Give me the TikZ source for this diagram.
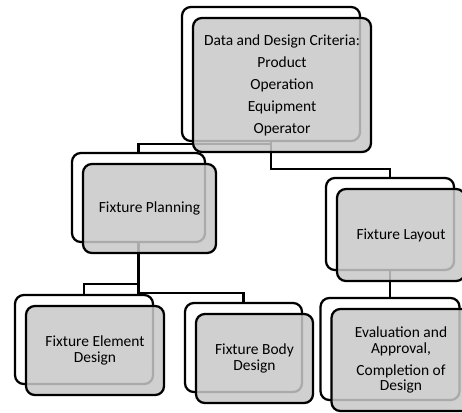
\documentclass[tikz,border=0pt]{standalone}
\usepackage{fontspec}
\setmainfont{Carlito}
\usetikzlibrary{backgrounds}
\definecolor{boxgray}{RGB}{200,200,200}
\tikzset{
  backbox/.style={draw=black,fill=white,rounded corners=5pt,inner sep=0pt},
  frontbox/.style={draw=black,fill=boxgray,fill opacity=0.85,text opacity=1,
    rounded corners=5pt,inner sep=0pt,align=center,
    font=\fontsize{8.8}{9}\selectfont},
  link/.style={draw=black,line width=1.3pt}
}

\begin{document}
\begin{tikzpicture}[x=0.02cm,y=-0.02cm,line width=1.3pt]
\useasboundingbox (0,0) rectangle (462,412);
\clip (0,0) rectangle (462,412);

% top level
\node[backbox,minimum width=3.56cm,minimum height=2.68cm] (topb) at (271,74) {};
\node[frontbox,minimum width=3.56cm,minimum height=2.68cm] (top) at (282,85)
  {Data and Design Criteria:\\[3.5pt]Product\\[3.5pt]Operation\\[3.5pt]Equipment\\[3.5pt]Operator};

% second level
\node[backbox,minimum width=2.66cm,minimum height=1.78cm] (planb) at (138.5,197.5) {};
\node[frontbox,minimum width=2.66cm,minimum height=1.78cm] (plan) at (149.5,208.5) {Fixture Planning};
\node[backbox,minimum width=2.56cm,minimum height=1.84cm] (layb) at (390,224) {};
\node[frontbox,minimum width=2.56cm,minimum height=1.84cm] (lay) at (401,235) {Fixture Layout};

% third level
\node[backbox,minimum width=2.76cm,minimum height=1.78cm] (elemb) at (84,339.5) {};
\node[frontbox,minimum width=2.76cm,minimum height=1.78cm] (elem) at (95,350.5) {Fixture Element\\Design};
\node[backbox,minimum width=2.34cm,minimum height=1.78cm] (bodyb) at (243.5,347.5) {};
\node[frontbox,minimum width=2.34cm,minimum height=1.78cm] (body) at (254.5,358.5) {Fixture Body\\Design};
\node[backbox,minimum width=2.78cm,minimum height=2.04cm] (evalb) at (390,349) {};
\node[frontbox,minimum width=2.78cm,minimum height=2.04cm] (eval) at (401,360)
  {Evaluation and\\Approval,\\[3.5pt]Completion of\\Design};

% connectors, behind the boxes
\begin{scope}[on background layer]
\draw[link] (topb.south) -- ++(0,2) -| (planb.north);
\draw[link] (topb.south) -- ++(0,27) -| (layb.north);
\draw[link] (planb.south) -- ++(0,41) -| (elemb.north);
\draw[link] (planb.south) -- ++(0,50) -| (bodyb.north);
\draw[link] (layb.south) -- (evalb.north);
\end{scope}
\end{tikzpicture}
\end{document}
